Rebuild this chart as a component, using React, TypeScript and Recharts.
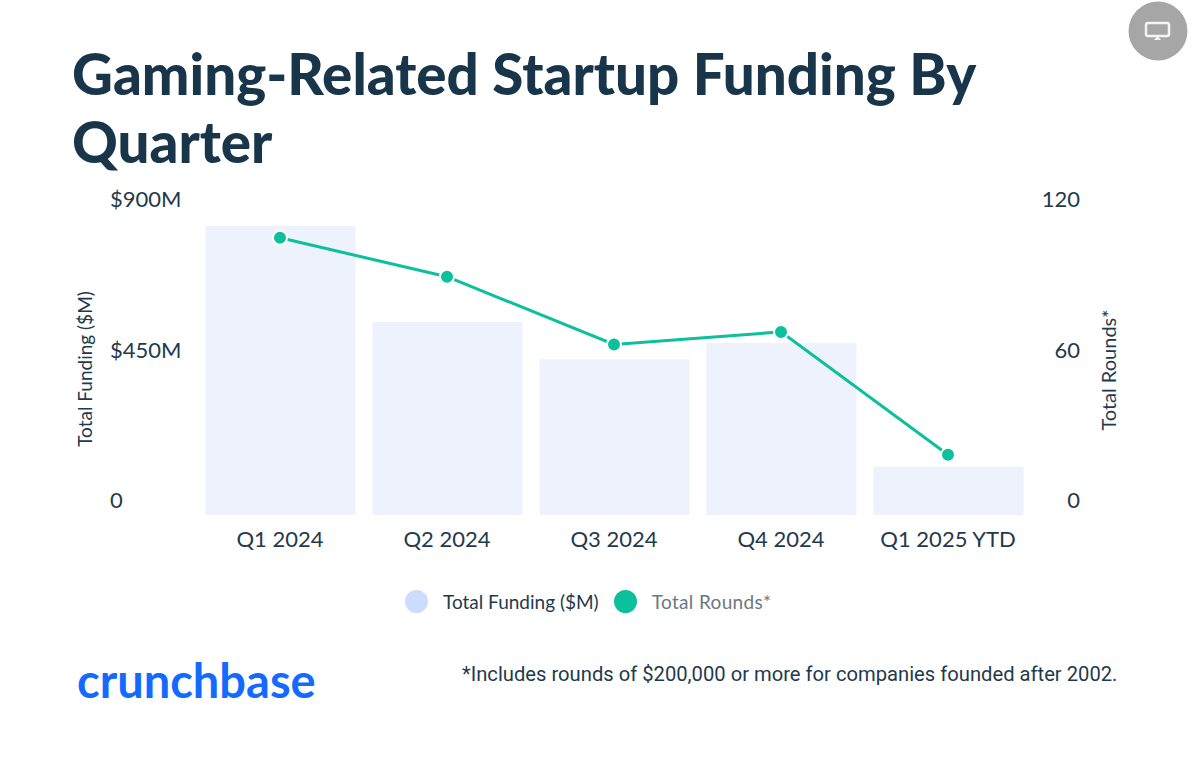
import { ComposedChart, Bar, Line, XAxis, YAxis, Legend } from "recharts";

const quarters = ["Q1 2024", "Q2 2024", "Q3 2024", "Q4 2024", "Q1 2025 YTD"];
const funding = [864, 577, 466, 514, 144];
const rounds = [110.5, 95, 68, 73, 24];
const fundingTicks = [0, 450, 900];
const roundTicks = [0, 60, 120];

const data = quarters.map((quarter, i) => ({
  quarter,
  funding: funding[i],
  rounds: rounds[i],
}));

const FONT = "Lato, 'Noto Sans', sans-serif";
const INK = "#1f3a4d";
const GREEN = "#0cbf9d";

const fundingLabel = (v: number) => (v === 0 ? "0" : `$${v}M`);

const LeftTick = ({ y, payload }: any) => (
  <text x={110} y={y} dy={-7} fontSize={22} fontFamily={FONT} fill={INK}>
    {fundingLabel(payload.value)}
  </text>
);

const RightTick = ({ y, payload }: any) => (
  <text x={1080} y={y} dy={-7} fontSize={22} fontFamily={FONT} fill={INK} textAnchor="end">
    {payload.value}
  </text>
);

const AxisTitle = ({ x, y, size, text }: any) => (
  <text
    x={x}
    y={y}
    fontSize={size}
    fontFamily={FONT}
    fill={INK}
    textAnchor="middle"
    dominantBaseline="central"
    transform={`rotate(-90 ${x} ${y})`}
  >
    {text}
  </text>
);

const LegendContent = ({ payload }: any) => (
  <div style={{ display: "flex", alignItems: "center", fontFamily: FONT, fontSize: 19 }}>
    {(payload || []).map((entry: any, i: number) => (
      <div key={entry.value} style={{ display: "flex", alignItems: "center", marginRight: 15 }}>
        <span
          style={{
            width: 23,
            height: 23,
            borderRadius: "50%",
            background: i === 0 ? "#cddcfc" : GREEN,
            marginRight: 15,
          }}
        />
        <span style={{ color: i === 0 ? INK : "#6b7883", letterSpacing: i === 0 ? 0 : 0.35 }}>{entry.value}</span>
      </div>
    ))}
  </div>
);

export default function App() {
  return (
    <div style={{ position: "absolute", left: 0, top: 0, width: 1200, height: 762, background: "#fff", overflow: "hidden" }}>
      <div
        style={{
          position: "absolute",
          left: 72,
          top: 39,
          width: 960,
          fontFamily: FONT,
          fontWeight: 900,
          fontSize: 56.5,
          lineHeight: "68px",
          color: "#19354a",
        }}
      >
        Gaming-Related Startup Funding By Quarter
      </div>

      <ComposedChart
        width={1200}
        height={762}
        data={data}
        barSize={150}
        margin={{ top: 214, right: 60.5, bottom: 177, left: 59.5 }}
      >
        <XAxis
          dataKey="quarter"
          axisLine={false}
          tickLine={false}
          height={40}
          interval={0}
          tick={{ fontSize: 22, fontFamily: FONT, fill: INK, dy: 8 }}
        />
        <YAxis
          yAxisId="left"
          width={137}
          domain={[0, 900]}
          ticks={fundingTicks}
          axisLine={false}
          tickLine={false}
          tick={LeftTick}
          label={{ content: () => <AxisTitle x={84} y={369} size={19} text="Total Funding ($M)" /> }}
        />
        <YAxis
          yAxisId="right"
          orientation="right"
          width={108}
          domain={[0, 120]}
          ticks={roundTicks}
          axisLine={false}
          tickLine={false}
          tick={RightTick}
          label={{ content: () => <AxisTitle x={1108} y={370} size={20} text="Total Rounds*" /> }}
        />
        <Bar yAxisId="left" dataKey="funding" name="Total Funding ($M)" fill="#eef2fd" isAnimationActive={false} />
        <Line
          yAxisId="right"
          dataKey="rounds"
          name="Total Rounds*"
          stroke={GREEN}
          strokeWidth={3}
          dot={{ r: 7, fill: GREEN, stroke: "#fff", strokeWidth: 2, fillOpacity: 1 }}
          isAnimationActive={false}
        />
        <Legend
          content={<LegendContent />}
          wrapperStyle={{ position: "absolute", left: 405, top: 590, width: 420, height: 30 }}
        />
      </ComposedChart>

      {/* logo and footnote sit outside the plot */}
      <div
        style={{
          position: "absolute",
          left: 77,
          top: 652,
          fontFamily: FONT,
          fontWeight: 700,
          fontSize: 47,
          color: "#146aff",
        }}
      >
        crunchbase
      </div>
      <div
        style={{
          position: "absolute",
          left: 462,
          top: 662,
          fontFamily: "Roboto, sans-serif",
          fontSize: 20.2,
          color: INK,
          whiteSpace: "nowrap",
        }}
      >
        *Includes rounds of $200,000 or more for companies founded after 2002.
      </div>

      {/* screen badge, top right */}
      <svg style={{ position: "absolute", left: 1128, top: 1 }} width={60} height={60}>
        <circle cx={30} cy={30} r={29.5} fill="#a6a6a6" />
        <rect x={18} y={22} width={23} height={13} rx={2} fill="none" stroke="#f4f4f4" strokeWidth={2.5} />
        <path d="M26 39 L33 39 L29.5 35 Z" fill="#f4f4f4" />
      </svg>
    </div>
  );
}
